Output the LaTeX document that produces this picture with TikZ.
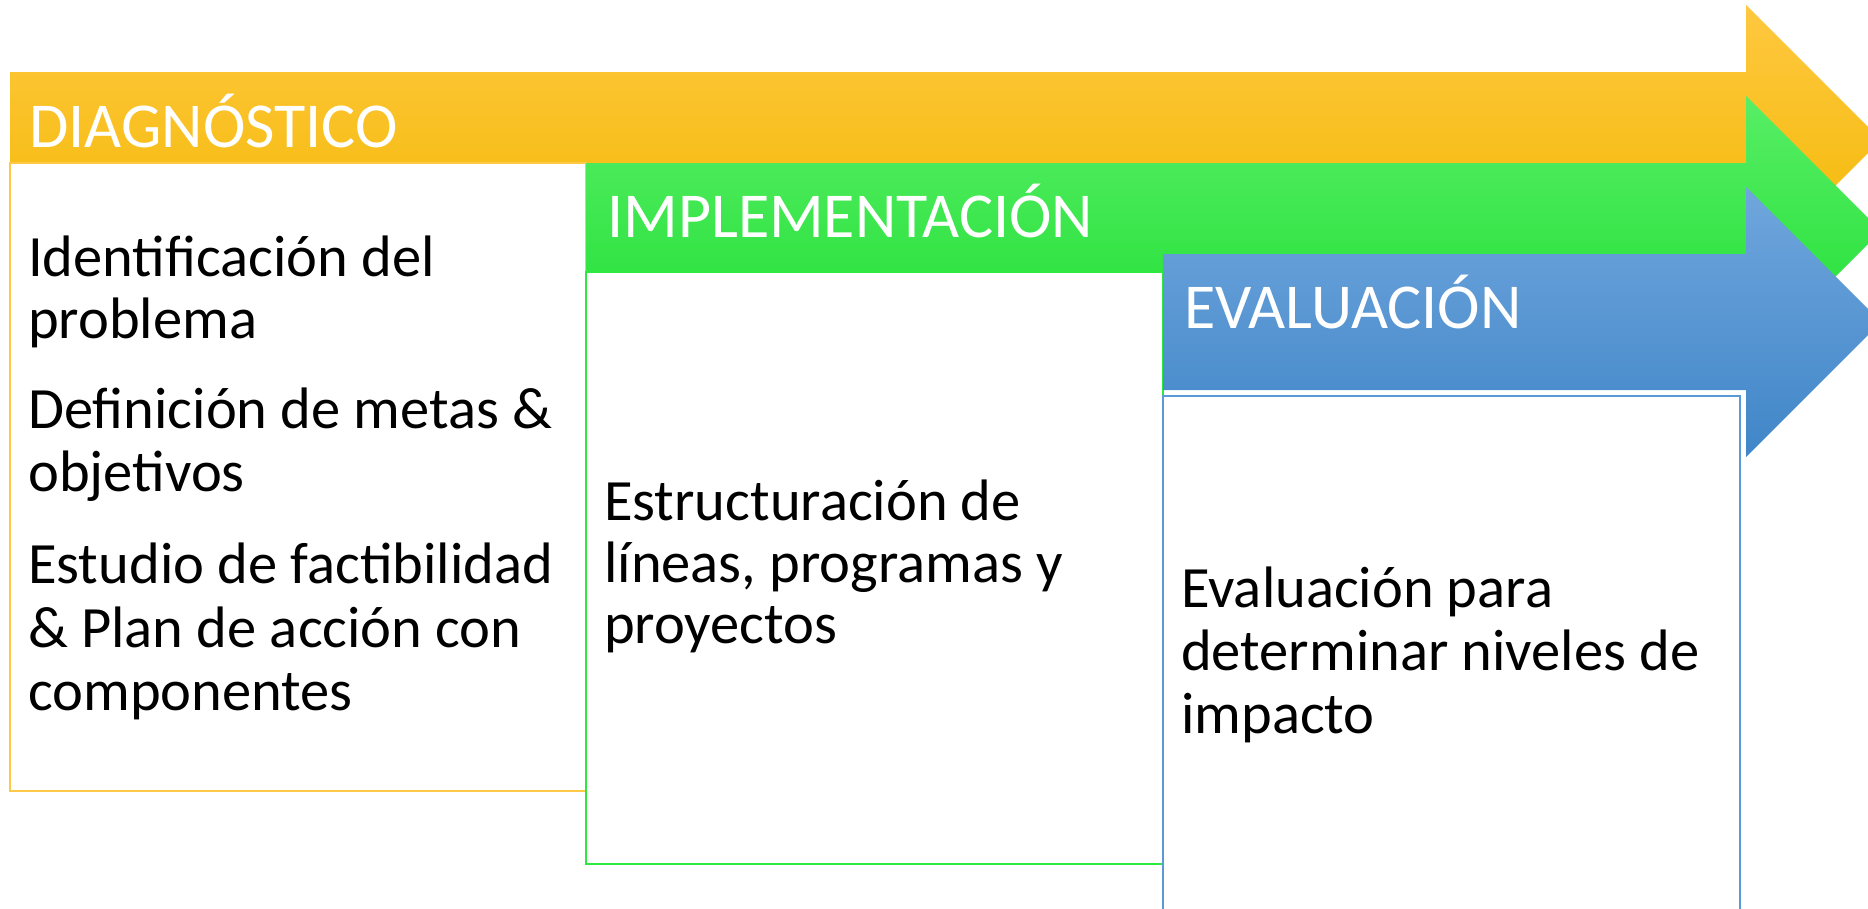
\documentclass[tikz,border=0pt]{standalone}
\usepackage{fontspec}
\setmainfont{Carlito}
\definecolor{orTop}{RGB}{255,200,64}
\definecolor{orMid}{RGB}{254,196,0}
\definecolor{orBot}{RGB}{242,184,0}
\definecolor{orLine}{RGB}{255,200,70}
\definecolor{grTop}{RGB}{88,238,102}
\definecolor{grMid}{RGB}{38,240,62}
\definecolor{grBot}{RGB}{30,222,50}
\definecolor{grLine}{RGB}{45,232,65}
\definecolor{blTop}{RGB}{112,166,221}
\definecolor{blMid}{RGB}{91,155,213}
\definecolor{blBot}{RGB}{64,134,200}
\definecolor{blLine}{RGB}{91,155,213}
\begin{document}
\begin{tikzpicture}[x=1pt,y=-1pt,
  head/.style={text=white,inner sep=0pt,anchor=base west,font=\fontsize{64}{70}\selectfont},
  body/.style={text=black,inner sep=0pt,anchor=base west,font=\fontsize{58.5}{64}\selectfont},
  panel/.style={fill=white,line width=1.5pt}]
\useasboundingbox (0,0) rectangle (1868,908);
\clip (0,0) rectangle (1868,908);
% orange arrow
\path[top color=orTop,middle color=orMid,bottom color=orBot]
  (10,72) -- (1746,72) -- (1746,5) -- (1881,140) -- (1746,275) -- (1746,208) -- (10,208) -- cycle;
\draw[panel,draw=orLine] (10,163) rectangle (586,791);
% green arrow
\path[top color=grTop,middle color=grMid,bottom color=grBot]
  (586,163) -- (1746,163) -- (1746,96) -- (1881,231) -- (1746,366) -- (1746,299) -- (586,299) -- cycle;
\draw[panel,draw=grLine] (586,272) rectangle (1163,864);
% blue arrow
\path[top color=blTop,middle color=blMid,bottom color=blBot]
  (1163,254) -- (1746,254) -- (1746,187) -- (1881,322) -- (1746,457) -- (1746,390) -- (1163,390) -- cycle;
\draw[panel,draw=blLine] (1163,396) rectangle (1740,925);
% headers
\node[head] (h1) at (29,147) {DIAGNÓSTICO};
\node[head] (h2) at (607,237) {IMPLEMENTACIÓN};
\node[head] (h3) at (1184,328) {EVALUACIÓN};
% orange body
\node[body] (o1) at (28,276) {Identificación del};
\node[body] (o2) at (28,338) {problema};
\node[body] (o3) at (28,428) {Definición de metas \&};
\node[body] (o4) at (28,491) {objetivos};
\node[body] (o5) at (28,583) {Estudio de factibilidad};
\node[body] (o6) at (28,647) {\& Plan de acción con};
\node[body] (o7) at (28,710) {componentes};
% green body
\node[body] (g1) at (604,520) {Estructuración de};
\node[body] (g2) at (604,582) {líneas, programas y};
\node[body] (g3) at (604,643) {proyectos};
% blue body
\node[body] (b1) at (1181,607) {Evaluación para};
\node[body] (b2) at (1181,670) {determinar niveles de};
\node[body] (b3) at (1181,733) {impacto};
\end{tikzpicture}
\end{document}
